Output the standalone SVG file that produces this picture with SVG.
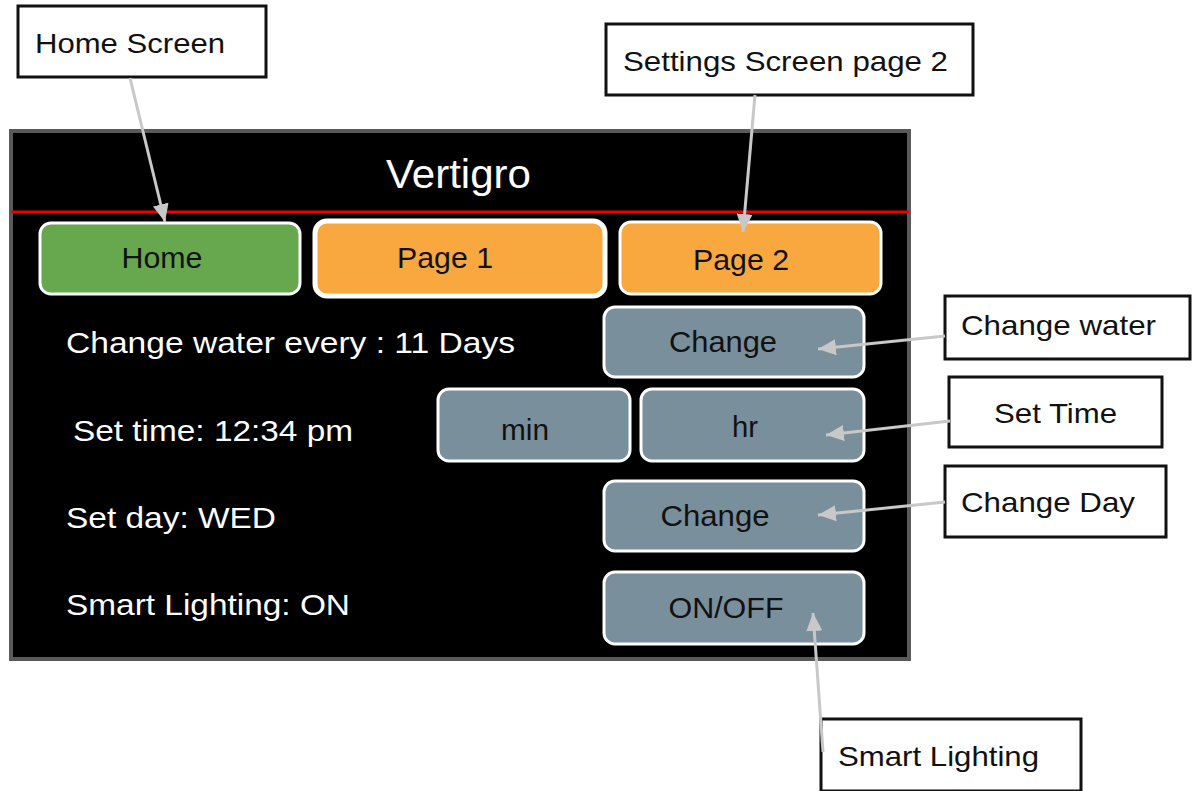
<svg xmlns="http://www.w3.org/2000/svg" width="1193" height="791" viewBox="0 0 1193 791">
<defs>
<style>
text{font-family:"Liberation Sans",Arial,sans-serif}
.callout rect{fill:#fff;stroke:#111;stroke-width:3}
.callout text{font-size:28px;fill:#111}
.btn{stroke:#fff;stroke-width:3}
.btntxt{font-size:29px;fill:#111;text-anchor:middle}
.lbl{font-size:30px;fill:#fff}
.slate{fill:#798f9b}
.orange{fill:#f8a83e}
.green{fill:#67a84e}
.conn line{stroke:#c8c8c8;stroke-width:3;marker-end:url(#ah)}
</style>
<marker id="ah" markerUnits="userSpaceOnUse" markerWidth="20" markerHeight="16" refX="18" refY="8" orient="auto">
<path d="M0,0 L18,8 L0,16 Z" fill="#c8c8c8"/>
</marker>
</defs>
<rect width="1193" height="791" fill="#fff"/>
<g id="screen">
<rect x="11" y="131" width="898" height="528" fill="#000" stroke="#5a5a5a" stroke-width="4"/>
<line x1="11" y1="212" x2="909" y2="212" stroke="#ee0000" stroke-width="3"/>
<text x="386" y="188" font-size="41" fill="#fff" textLength="145" lengthAdjust="spacingAndGlyphs">Vertigro</text>
</g>
<g id="btn-home"><rect class="btn green" x="40" y="223" width="260" height="71" rx="11"/><text class="btntxt" x="162" y="268" textLength="81" lengthAdjust="spacingAndGlyphs">Home</text></g>
<g id="btn-page1"><rect class="orange" x="315" y="221" width="290" height="75" rx="12" stroke="#fff" stroke-width="5"/><text class="btntxt" x="445" y="268" textLength="96" lengthAdjust="spacingAndGlyphs">Page 1</text></g>
<g id="btn-page2"><rect class="btn orange" x="620" y="222" width="261" height="72" rx="11"/><text class="btntxt" x="741" y="270" textLength="96" lengthAdjust="spacingAndGlyphs">Page 2</text></g>
<g id="lbl-water"><text class="lbl" x="66" y="353" textLength="449" lengthAdjust="spacingAndGlyphs">Change water every : 11 Days</text></g>
<g id="lbl-time"><text class="lbl" x="73" y="441" textLength="280" lengthAdjust="spacingAndGlyphs">Set time: 12:34 pm</text></g>
<g id="lbl-day"><text class="lbl" x="66" y="528" textLength="210" lengthAdjust="spacingAndGlyphs">Set day: WED</text></g>
<g id="lbl-light"><text class="lbl" x="66" y="615" textLength="284" lengthAdjust="spacingAndGlyphs">Smart Lighting: ON</text></g>
<g id="btn-change-water"><rect class="btn slate" x="604" y="307" width="260" height="70" rx="11"/><text class="btntxt" x="723" y="352" textLength="108" lengthAdjust="spacingAndGlyphs">Change</text></g>
<g id="btn-min"><rect class="btn slate" x="438" y="389" width="192" height="72" rx="11"/><text class="btntxt" x="525" y="440" textLength="48" lengthAdjust="spacingAndGlyphs">min</text></g>
<g id="btn-hr"><rect class="btn slate" x="641" y="389" width="223" height="72" rx="11"/><text class="btntxt" x="745" y="437" textLength="26" lengthAdjust="spacingAndGlyphs">hr</text></g>
<g id="btn-change-day"><rect class="btn slate" x="604" y="481" width="260" height="70" rx="11"/><text class="btntxt" x="715" y="526" textLength="109" lengthAdjust="spacingAndGlyphs">Change</text></g>
<g id="btn-onoff"><rect class="btn slate" x="604" y="572" width="260" height="72" rx="11"/><text class="btntxt" x="726" y="618" textLength="115" lengthAdjust="spacingAndGlyphs">ON/OFF</text></g>
<g id="c-home" class="callout"><rect x="18" y="6" width="248" height="71"/><text x="35" y="53" textLength="190" lengthAdjust="spacingAndGlyphs">Home Screen</text></g>
<g id="c-settings" class="callout"><rect x="606" y="24" width="367" height="71"/><text x="623" y="71" textLength="325" lengthAdjust="spacingAndGlyphs">Settings Screen page 2</text></g>
<g id="c-water" class="callout"><rect x="945" y="296" width="245" height="63"/><text x="961" y="335" textLength="195" lengthAdjust="spacingAndGlyphs">Change water</text></g>
<g id="c-time" class="callout"><rect x="949" y="377" width="213" height="70"/><text x="994" y="423" textLength="123" lengthAdjust="spacingAndGlyphs">Set Time</text></g>
<g id="c-day" class="callout"><rect x="945" y="466" width="221" height="71"/><text x="961" y="512" textLength="174" lengthAdjust="spacingAndGlyphs">Change Day</text></g>
<g id="c-light" class="callout"><rect x="821" y="719" width="260" height="72"/><text x="838" y="766" textLength="201" lengthAdjust="spacingAndGlyphs">Smart Lighting</text></g>
<g id="connectors" class="conn">
<line x1="130" y1="78" x2="165" y2="222"/>
<line x1="755" y1="95" x2="743" y2="232"/>
<line x1="945" y1="336" x2="818" y2="349"/>
<line x1="950" y1="421" x2="826" y2="435"/>
<line x1="945" y1="502" x2="818" y2="515"/>
<line x1="823" y1="752" x2="813" y2="613"/>
</g>
</svg>
